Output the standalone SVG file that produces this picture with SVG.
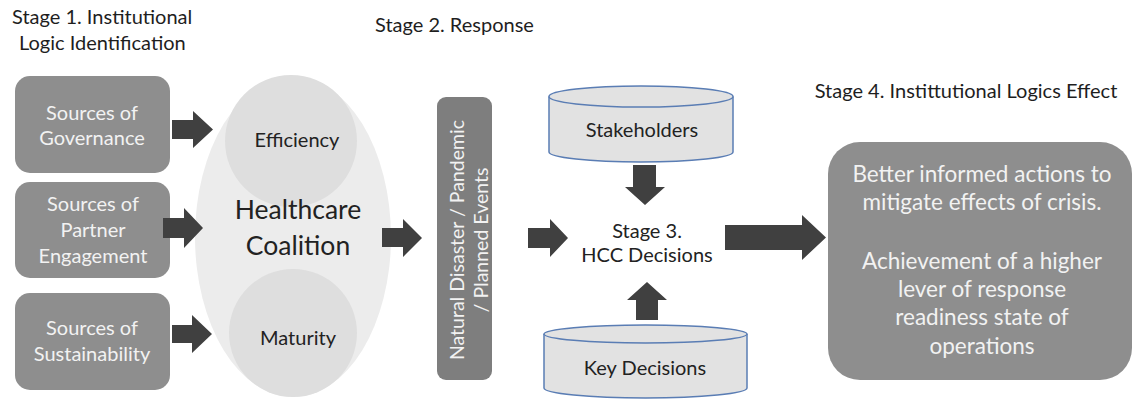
<svg xmlns="http://www.w3.org/2000/svg" width="1134" height="400" viewBox="0 0 1134 400">
  <style>
    text { font-family: Lato, "Liberation Sans", sans-serif; }
    .title { font-size: 20px; fill: #1e1e1e; }
    .box { fill: #8e8e8e; }
    .boxtxt { font-size: 20px; fill: #f2f2f2; text-anchor: middle; }
    .dark { fill: #222222; text-anchor: middle; font-size: 20px; }
    .big { font-size: 26.5px; }
    .out { font-size: 22.5px; }
    .vert { font-size: 19.5px; }
    .arrow { fill: #404040; }
    .cyl { fill: #e2e2e2; stroke: #5a7db4; stroke-width: 1.5; }
  </style>

  <!-- stage headings -->
  <g id="headings">
    <text class="title" x="12" y="24">Stage 1. Institutional</text>
    <text class="title" x="19" y="50">Logic Identification</text>
    <text class="title" x="375" y="32">Stage 2. Response</text>
    <text class="title" x="966" y="98" text-anchor="middle">Stage 4. Instittutional Logics Effect</text>
  </g>

  <!-- stage 1 source boxes -->
  <g id="governance">
    <rect class="box" x="15" y="76" width="155" height="97" rx="15"/>
    <text class="boxtxt" x="92" y="120">Sources of</text>
    <text class="boxtxt" x="92" y="145">Governance</text>
  </g>
  <g id="partner">
    <rect class="box" x="15" y="182" width="155" height="96" rx="15"/>
    <text class="boxtxt" x="93" y="211">Sources of</text>
    <text class="boxtxt" x="93" y="237">Partner</text>
    <text class="boxtxt" x="93" y="263">Engagement</text>
  </g>
  <g id="sustainability">
    <rect class="box" x="15" y="293" width="155" height="97" rx="15"/>
    <text class="boxtxt" x="92" y="335">Sources of</text>
    <text class="boxtxt" x="92" y="361">Sustainability</text>
  </g>

  <!-- healthcare coalition -->
  <g id="coalition">
    <ellipse cx="293" cy="237" rx="98" ry="160" fill="#ececec"/>
    <circle cx="291" cy="141" r="66" fill="#dedede"/>
    <circle cx="293" cy="333" r="64" fill="#dedede"/>
    <text class="dark" x="297" y="147">Efficiency</text>
    <text class="dark" x="298" y="345">Maturity</text>
    <text class="dark big" x="298" y="219">Healthcare</text>
    <text class="dark big" x="298" y="255">Coalition</text>
  </g>

  <!-- response events -->
  <g id="events">
    <rect x="437" y="97" width="55" height="283" rx="9" fill="#7e7e7e"/>
    <g transform="translate(464,240) rotate(-90)">
      <text class="boxtxt vert" x="0" y="0">Natural Disaster / Pandemic</text>
      <text class="boxtxt vert" x="0" y="24">/ Planned Events</text>
    </g>
  </g>

  <!-- stakeholders store -->
  <g id="stakeholders">
    <path class="cyl" d="M549,96.5 V152 A92,10 0 0 0 733,152 V96.5"/>
    <ellipse class="cyl" cx="641" cy="96.5" rx="92" ry="10.5"/>
    <text class="dark" x="642" y="137">Stakeholders</text>
  </g>

  <!-- key decisions store -->
  <g id="keydecisions">
    <path class="cyl" d="M544,334 V388 A101.5,10 0 0 0 747,388 V334"/>
    <ellipse class="cyl" cx="645.5" cy="334" rx="101.5" ry="9"/>
    <text class="dark" x="645" y="375">Key Decisions</text>
  </g>

  <!-- stage 3 -->
  <g id="stage3">
    <text class="dark" x="647" y="238">Stage 3.</text>
    <text class="dark" x="647" y="262">HCC Decisions</text>
  </g>

  <!-- stage 4 outcome -->
  <g id="outcome">
    <rect class="box" x="828" y="142" width="304" height="238" rx="32"/>
    <text class="boxtxt out" x="982" y="182">Better informed actions to</text>
    <text class="boxtxt out" x="982" y="210">mitigate effects of crisis.</text>
    <text class="boxtxt out" x="982" y="269">Achievement of a higher</text>
    <text class="boxtxt out" x="982" y="297">lever of response</text>
    <text class="boxtxt out" x="982" y="325">readiness state of</text>
    <text class="boxtxt out" x="982" y="354">operations</text>
  </g>

  <!-- block arrows -->
  <g id="connectors">
    <polygon class="arrow" points="172,120 193,120 193,111 213,129.5 193,148 193,139 172,139"/>
    <polygon class="arrow" points="163,218 184,218 184,208 203,228 184,248 184,238 163,238"/>
    <polygon class="arrow" points="172,325 192,325 192,315 212,334 192,353 192,343 172,343"/>
    <polygon class="arrow" points="382,228 403,228 403,219 422,238 403,257 403,247 382,247"/>
    <polygon class="arrow" points="528,228 550,228 550,219 568,238 550,257 550,248 528,248"/>
    <polygon class="arrow" points="633,165 656,165 656,187 665,187 645,205 625,187 633,187"/>
    <polygon class="arrow" points="636,320 658,320 658,300 667,300 647,282 627,300 636,300"/>
    <polygon class="arrow" points="725,225 802,225 802,215 826,237.5 802,260 802,250 725,250"/>
  </g>
</svg>
